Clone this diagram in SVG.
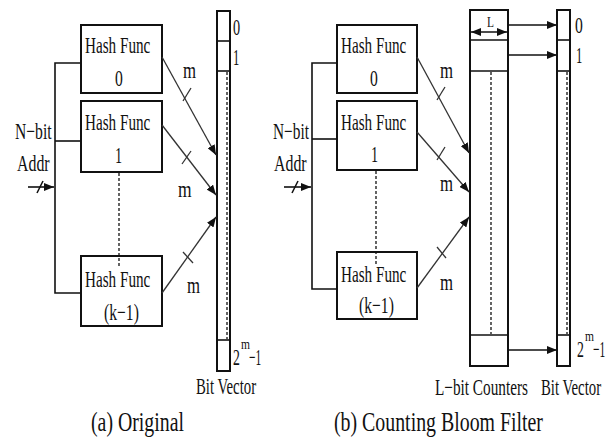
<svg xmlns="http://www.w3.org/2000/svg" width="610" height="441" viewBox="0 0 610 441">
<style>
text{font-family:"Liberation Serif","Times New Roman",serif;fill:#111;}
.t{font-size:23px;}
.cap{font-size:28px;}
.sm{font-size:15px;}
.box{fill:#fff;stroke:#111;stroke-width:2;}
.ln{fill:none;stroke:#111;stroke-width:1.6;}
.ar{fill:none;stroke:#333;stroke-width:1.3;}
.dash{fill:none;stroke:#111;stroke-width:1.3;stroke-dasharray:3,2;}
</style>
<defs>
<marker id="ah" viewBox="0 0 10 8" refX="10" refY="4" markerWidth="10" markerHeight="8" markerUnits="userSpaceOnUse" orient="auto-start-reverse">
<path d="M0,0 L10,4 L0,8 Z" fill="#111"/>
</marker>
</defs>
<rect width="610" height="441" fill="#fff"/>

<!-- (a) Original -->
<g id="inputA">
<text class="t" transform="matrix(0.68 0 0 1 15 139)">N−bit</text>
<text class="t" transform="matrix(0.69 0 0 1 17 171)">Addr</text>
</g>
<g id="hashA0">
<rect class="box" x="81" y="25" width="81" height="68"/>
<text class="t" transform="matrix(0.66 0 0 1 85 53)">Hash Func</text>
<text class="t" transform="matrix(0.68 0 0 1 115 86)">0</text>
</g>
<g id="hashA1">
<rect class="box" x="81" y="101" width="81" height="71"/>
<text class="t" transform="matrix(0.66 0 0 1 85 130)">Hash Func</text>
<text class="t" transform="matrix(0.62 0 0 1 115 163)">1</text>
</g>
<g id="hashAk">
<rect class="box" x="81" y="256" width="81" height="70"/>
<text class="t" transform="matrix(0.66 0 0 1 85 287)">Hash Func</text>
<text class="t" transform="matrix(0.68 0 0 1 104 320)">(k−1)</text>
</g>
<g id="bitvecA">
<rect class="box" x="217" y="11" width="13" height="360"/>
<line class="ln" x1="217" y1="41" x2="230" y2="41"/>
<line class="ln" x1="217" y1="71" x2="230" y2="71"/>
<line class="ln" x1="217" y1="340" x2="230" y2="340"/>
<line class="dash" x1="227" y1="72" x2="227" y2="339"/>
<text class="t" transform="matrix(0.62 0 0 1 233 35)">0</text>
<text class="t" transform="matrix(0.55 0 0 1 233 65)">1</text>
<text class="t" transform="matrix(0.6 0 0 1 233 365)">2</text>
<text class="sm" transform="matrix(0.77 0 0 1 241 349)">m</text>
<text class="t" transform="matrix(0.5 0 0 1 249 365)">−1</text>
<text class="t" transform="matrix(0.643 0 0 1 196 394)">Bit Vector</text>
</g>
<g id="captionA">
<text class="cap" transform="matrix(0.708 0 0 1 91 431)">(a) Original</text>
</g>

<!-- (b) Counting Bloom Filter -->
<g id="inputB">
<text class="t" transform="matrix(0.668 0 0 1 273 139)">N−bit</text>
<text class="t" transform="matrix(0.69 0 0 1 274 171)">Addr</text>
</g>
<g id="hashB0">
<rect class="box" x="337" y="25" width="80" height="68"/>
<text class="t" transform="matrix(0.66 0 0 1 341 53)">Hash Func</text>
<text class="t" transform="matrix(0.68 0 0 1 370 86)">0</text>
</g>
<g id="hashB1">
<rect class="box" x="337" y="101" width="80" height="69"/>
<text class="t" transform="matrix(0.62 0 0 1 371 162)">1</text>
<text class="t" transform="matrix(0.66 0 0 1 341 130)">Hash Func</text>
</g>
<g id="hashBk">
<rect class="box" x="337" y="252" width="80" height="67"/>
<text class="t" transform="matrix(0.66 0 0 1 341 282)">Hash Func</text>
<text class="t" transform="matrix(0.68 0 0 1 359 313)">(k−1)</text>
</g>
<g id="counters">
<rect class="box" x="470" y="10" width="38" height="356"/>
<line class="ln" x1="470" y1="40" x2="508" y2="40"/>
<line class="ln" x1="470" y1="71" x2="508" y2="71"/>
<line class="ln" x1="470" y1="335" x2="508" y2="335"/>
<line class="dash" x1="491" y1="72" x2="491" y2="334"/>
<text class="sm" transform="matrix(0.76 0 0 1 487 27)">L</text>
<line class="ln" x1="471" y1="32" x2="507" y2="32" marker-start="url(#ah)" marker-end="url(#ah)"/>
<text class="t" transform="matrix(0.664 0 0 1 435 395)">L−bit Counters</text>
</g>
<g id="bitvecB">
<rect class="box" x="557" y="10" width="13" height="356"/>
<line class="ln" x1="557" y1="40" x2="570" y2="40"/>
<line class="ln" x1="557" y1="71" x2="570" y2="71"/>
<line class="ln" x1="557" y1="335" x2="570" y2="335"/>
<line class="dash" x1="567" y1="72" x2="567" y2="334"/>
<text class="t" transform="matrix(0.68 0 0 1 575 33)">0</text>
<text class="t" transform="matrix(0.55 0 0 1 576 63)">1</text>
<text class="t" transform="matrix(0.6 0 0 1 577 357)">2</text>
<text class="sm" transform="matrix(0.77 0 0 1 585 341)">m</text>
<text class="t" transform="matrix(0.5 0 0 1 593 357)">−1</text>
<text class="t" transform="matrix(0.643 0 0 1 541 395)">Bit Vector</text>
</g>
<g id="captionB">
<text class="cap" transform="matrix(0.709 0 0 1 334 431)">(b) Counting Bloom Filter</text>
</g>

<g id="connectors">
<!-- (a) fan-out -->
<polyline class="ln" points="81,63 55,63 55,293 81,293"/>
<line class="ln" x1="55" y1="141" x2="81" y2="141"/>
<line class="ln" x1="28" y1="187" x2="54" y2="187" marker-end="url(#ah)"/>
<line class="ln" x1="37" y1="193" x2="43" y2="181"/>
<line class="dash" x1="119" y1="173" x2="119" y2="267"/>
<line class="ar" x1="162" y1="57" x2="216" y2="155" marker-end="url(#ah)"/>
<line class="ar" x1="183" y1="101" x2="191" y2="88"/>
<line class="ar" x1="162" y1="125" x2="216" y2="195" marker-end="url(#ah)"/>
<line class="ar" x1="182" y1="164" x2="191" y2="151"/>
<line class="ar" x1="162" y1="293" x2="216" y2="217" marker-end="url(#ah)"/>
<line class="ar" x1="183" y1="252" x2="193" y2="263"/>
<text class="t" transform="matrix(0.73 0 0 1 183 78)">m</text>
<text class="t" transform="matrix(0.76 0 0 1 178 197)">m</text>
<text class="t" transform="matrix(0.73 0 0 1 187 293)">m</text>
<!-- (b) fan-out -->
<polyline class="ln" points="337,63 312,63 312,289 337,289"/>
<line class="ln" x1="312" y1="139" x2="337" y2="139"/>
<line class="ln" x1="284" y1="187" x2="311" y2="187" marker-end="url(#ah)"/>
<line class="ln" x1="292" y1="193" x2="298" y2="181"/>
<line class="dash" x1="376" y1="171" x2="376" y2="266"/>
<line class="ar" x1="417" y1="57" x2="469" y2="153" marker-end="url(#ah)"/>
<line class="ar" x1="437" y1="100" x2="445" y2="87"/>
<line class="ar" x1="417" y1="132" x2="469" y2="192" marker-end="url(#ah)"/>
<line class="ar" x1="437" y1="160" x2="445" y2="147"/>
<line class="ar" x1="417" y1="288" x2="469" y2="217" marker-end="url(#ah)"/>
<line class="ar" x1="437" y1="247" x2="446" y2="258"/>
<text class="t" transform="matrix(0.73 0 0 1 440 78)">m</text>
<text class="t" transform="matrix(0.73 0 0 1 440 191)">m</text>
<text class="t" transform="matrix(0.73 0 0 1 440 290)">m</text>
<!-- counters to bit vector -->
<line class="ln" x1="508" y1="25" x2="557" y2="25" marker-end="url(#ah)"/>
<line class="ln" x1="508" y1="55" x2="557" y2="55" marker-end="url(#ah)"/>
<line class="ln" x1="508" y1="350" x2="557" y2="350" marker-end="url(#ah)"/>
</g>
</svg>
